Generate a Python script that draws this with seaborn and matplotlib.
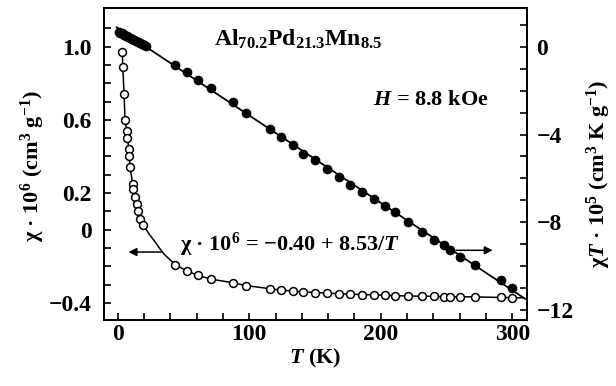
import numpy as np
import pandas as pd
import matplotlib
matplotlib.use("Agg")
import matplotlib.pyplot as plt
import seaborn as sb

# shared temperatures (K) above the gap, both series were measured here
t_hi = [43.5, 52.4, 61.2, 70.8, 88, 97.4, 115.5, 124.3, 133, 141, 150, 159.5, 168,
        176.5, 185.8, 195, 203.5, 211, 220.6, 231.6, 240.6, 248, 253, 260, 272, 291.5, 300]

# open circles: chi*10^6 (left axis)
t_lo_open = [3.5, 3.8, 4.8, 5.5, 6.8, 7.3, 8.6, 8.8, 9.3, 11.4, 11.9, 13.1, 14.4, 15.6, 16.9, 19.4]
chi_lo = [0.97, 0.89, 0.74, 0.60, 0.54, 0.50, 0.44, 0.40, 0.34, 0.25, 0.22, 0.18, 0.14, 0.10, 0.06, 0.025]
chi_hi = [-0.19, -0.225, -0.25, -0.27, -0.29, -0.305, -0.322, -0.33, -0.335, -0.34, -0.343, -0.346,
          -0.35, -0.352, -0.354, -0.356, -0.358, -0.36, -0.362, -0.363, -0.364, -0.365, -0.366,
          -0.366, -0.367, -0.37, -0.371]
# where the drawn curve runs without points
t_gap = [24.0, 28.3, 34.6]
chi_gap = [-0.025, -0.066, -0.129]
t_end = [309.0]
chi_end = [-0.372]

# filled circles: chi*T*10^5 (right axis)
t_lo_filled = [1, 2, 3, 4, 5, 6, 7, 8, 9.5, 11, 12.5, 14, 15.5, 17, 18.5, 20, 21.5]
chiT_lo = [0.68, 0.65, 0.62, 0.58, 0.55, 0.52, 0.49, 0.46, 0.42, 0.38, 0.33, 0.29, 0.24,
           0.20, 0.15, 0.10, 0.05]
chiT_hi = [-0.84, -1.14, -1.49, -1.87, -2.51, -3.0, -3.73, -4.11, -4.49, -4.87, -5.17, -5.55,
           -5.94, -6.32, -6.62, -6.95, -7.27, -7.55, -7.99, -8.45, -8.83, -9.05, -9.28, -9.59,
           -9.97, -10.62, -10.99]
t_fit = [-1.0, 310.0]
chiT_fit = [0.90, -11.5]

sb.set_theme(style="white")
plt.rcParams.update({
    "font.family": ["Liberation Serif", "DejaVu Serif"],
    "font.weight": "bold",
    "axes.labelweight": "bold",
    "mathtext.fontset": "custom",
    "mathtext.rm": "Liberation Serif:bold",
    "mathtext.bf": "Liberation Serif:bold",
    "mathtext.it": "Liberation Serif:italic:bold",
    "mathtext.default": "rm",
    "axes.edgecolor": "black",
    "axes.linewidth": 1.3,
    "text.color": "black",
    "axes.labelcolor": "black",
    "xtick.color": "black",
    "ytick.color": "black",
})

openc = pd.DataFrame({"T": t_lo_open + t_hi, "chi": chi_lo + chi_hi})
curve = pd.concat([openc, pd.DataFrame({"T": t_gap + t_end, "chi": chi_gap + chi_end})])
curve = curve.sort_values("T")
filled = pd.DataFrame({"T": t_lo_filled + t_hi, "chiT": chiT_lo + chiT_hi})

fig = plt.figure(figsize=(6.16, 3.86), dpi=100)
ax = fig.add_axes([0.169, 0.171, 0.686, 0.808])
ax2 = ax.twinx()

sb.lineplot(data=curve, x="T", y="chi", ax=ax, color="black", lw=1.1,
            sort=False, estimator=None)
sb.scatterplot(data=openc, x="T", y="chi", ax=ax, s=32, facecolor="white",
               edgecolor="black", linewidth=1.1, zorder=3)
sb.lineplot(x=t_fit, y=chiT_fit, ax=ax2, color="black", lw=1.3)
sb.scatterplot(data=filled, x="T", y="chiT", ax=ax2, s=42, color="black",
               edgecolor="black", linewidth=0.5, zorder=3)

ax.set_xlim(-10.4, 311)
ax.set_ylim(-0.493, 1.21)
ax2.set_ylim(-12.46, 1.77)

ax.set_xticks([0, 100, 200, 300])
ax.set_xticks(np.arange(0, 301, 20), minor=True)
ax.set_yticks([-0.4, 0, 0.2, 0.6, 1.0])
ax.set_yticklabels(["\u22120.4", "0", "0.2", "0.6", "1.0"])
ax.set_yticks(np.arange(-0.4, 1.11, 0.1), minor=True)
ax2.set_yticks([-12, -8, -4, 0])
ax2.set_yticks(np.arange(-12, 2, 1), minor=True)

for a in (ax, ax2):
    a.tick_params(which="both", direction="in", length=5, width=1.2, colors="black",
                  labelsize=17)
ax.tick_params(axis="x", pad=3)
ax.tick_params(axis="y", left=True, right=False, pad=9)
ax.tick_params(axis="x", which="both", bottom=True, top=False)
ax2.tick_params(axis="y", which="both", right=True, left=False, pad=7)

ax.set_xlabel("$\\mathit{T}$ (K)", fontsize=16, labelpad=1)
ax.set_ylabel("")
ax2.set_ylabel("")
fig.text(0.054, 0.57, "\u03c7 \u00b7 10$^{6}$ (cm$^{3}$ g$^{-1}$)", rotation=90,
         ha="center", va="center", fontsize=16)
fig.text(0.972, 0.55, "\u03c7$\\mathit{T}$ \u00b7 10$^{5}$ (cm$^{3}$ K g$^{-1}$)", rotation=90,
         ha="center", va="center", fontsize=16)

ax.text(0.46, 0.9, "Al$_{70.2}$Pd$_{21.3}$Mn$_{8.5}$", transform=ax.transAxes,
        ha="center", va="center", fontsize=17)
ax.text(0.773, 0.705, "$\\mathit{H}$ = 8.8 kOe", transform=ax.transAxes,
        ha="center", va="center", fontsize=16)
ax.text(0.44, 0.24, "\u03c7 \u00b7 10$^{6}$ = \u22120.40 + 8.53/$\\mathit{T}$", transform=ax.transAxes,
        ha="center", va="center", fontsize=16)

ax.annotate("", xy=(8.1, -0.122), xytext=(34.4, -0.122),
            arrowprops=dict(arrowstyle="-|>", color="black", lw=1.1,
                            mutation_scale=12, shrinkA=0, shrinkB=0))
ax2.annotate("", xy=(285.2, -9.28), xytext=(257.4, -9.28),
             arrowprops=dict(arrowstyle="-|>", color="black", lw=1.1,
                             mutation_scale=12, shrinkA=0, shrinkB=0))

fig.savefig("out.png", dpi=100)
